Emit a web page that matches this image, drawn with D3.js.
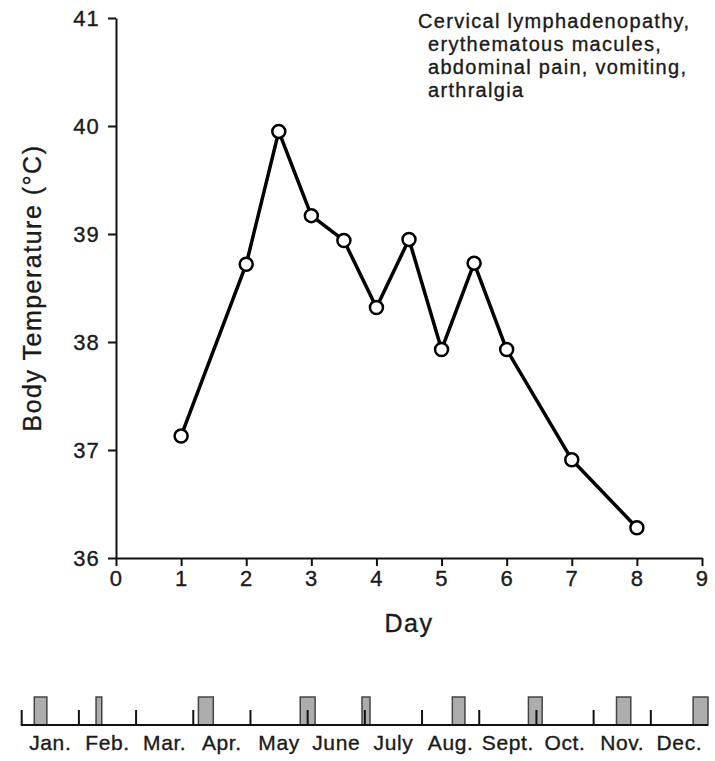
<!DOCTYPE html>
<html>
<head>
<meta charset="utf-8">
<script src="https://cdn.jsdelivr.net/npm/d3@7"></script>
<style>
  body { margin: 0; background: #fff; }
  text { font-family: "Liberation Sans", Arial, sans-serif; fill: #1a1a1a; stroke: #1a1a1a; stroke-width: 0.35px; }
</style>
</head>
<body>
<div id="myChart"></div>
<script>
// data
let days = [1, 2, 2.5, 3, 3.5, 4, 4.5, 5, 5.5, 6, 7, 8];
let temps = [37.13, 38.72, 39.95, 39.17, 38.94, 38.32, 38.95, 37.93, 38.73, 37.93, 36.91, 36.28];
let xTicks = [0, 1, 2, 3, 4, 5, 6, 7, 8, 9];
let yTicks = [36, 37, 38, 39, 40, 41];
let months = ["Jan.", "Feb.", "Mar.", "Apr.", "May", "June", "July", "Aug.", "Sept.", "Oct.", "Nov.", "Dec."];
// episodes on the year strip, in months from Jan. 1
let episodeStart = [0.22, 1.30, 3.09, 4.87, 5.95, 7.53, 8.86, 10.40, 11.74];
let episodeEnd = [0.44, 1.40, 3.35, 5.13, 6.09, 7.75, 9.10, 10.65, 12.0];
let noteLines = ["Cervical lymphadenopathy,", "erythematous macules,", "abdominal pain, vomiting,", "arthralgia"];

let totalW = 715, totalH = 761;

// set the dimensions and margins of the graph
let margin = {top: 18, right: 13, bottom: 203, left: 116},
    width = totalW - margin.left - margin.right,
    height = totalH - margin.top - margin.bottom;

let root = d3.select("#myChart")
    .append("svg")
        .attr("width", totalW)
        .attr("height", totalH);

let svg = root.append("g")
        .attr("transform", "translate(" + margin.left + "," + margin.top + ")");

let x = d3.scaleLinear()
    .domain([0, 9])
    .range([0, width]);

let y = d3.scaleLinear()
    .domain([36, 41])
    .range([height, 0]);

// X axis
let xAxis = svg.append("g")
    .attr("transform", "translate(0," + height + ")")
    .call(d3.axisBottom(x).tickValues(xTicks).tickFormat(d3.format("d"))
        .tickSize(8).tickSizeOuter(0).tickPadding(4));

// Y axis
let yAxis = svg.append("g")
    .call(d3.axisLeft(y).tickValues(yTicks).tickFormat(d3.format("d"))
        .tickSize(8).tickSizeOuter(0).tickPadding(8));

[xAxis, yAxis].forEach(function (a) {
    a.select(".domain").attr("stroke", "#111").attr("stroke-width", 2);
    a.selectAll(".tick line").attr("stroke", "#111").attr("stroke-width", 2);
    a.selectAll(".tick text")
        .style("font-size", "22px")
        .style("letter-spacing", "1.2px")
        .attr("fill", "#1a1a1a");
});
xAxis.selectAll(".tick text").attr("dy", "0.74em");
yAxis.selectAll(".tick text").attr("dy", "0.36em");

// axis titles
svg.append("text")
    .attr("x", width / 2)
    .attr("y", height + 74)
    .attr("text-anchor", "middle")
    .style("font-size", "25px")
    .style("letter-spacing", "1.5px")
    .text("Day");

svg.append("text")
    .attr("transform", "translate(" + (41 - margin.left) + "," + (y(38.5)) + ") rotate(-90)")
    .attr("text-anchor", "middle")
    .style("font-size", "25px")
    .style("letter-spacing", "1.5px")
    .text("Body Temperature (\u00B0C)");

// line
let pts = days.map(function (d, i) { return [d, temps[i]]; });

svg.append("path")
    .datum(pts)
    .attr("fill", "none")
    .attr("stroke", "#000")
    .attr("stroke-width", 3.5)
    .attr("stroke-linejoin", "round")
    .attr("d", d3.line()
        .x(function (d) { return x(d[0]); })
        .y(function (d) { return y(d[1]); }));

// dots
svg.append("g")
    .selectAll("circle")
    .data(pts)
    .enter()
    .append("circle")
        .attr("cx", function (d) { return x(d[0]); })
        .attr("cy", function (d) { return y(d[1]); })
        .attr("r", 6.5)
        .attr("fill", "#fff")
        .attr("stroke", "#000")
        .attr("stroke-width", 2.5);

// symptom note
let note = root.append("text")
    .style("font-size", "20px")
    .style("letter-spacing", "1.3px");

note.selectAll("tspan")
    .data(noteLines)
    .enter()
    .append("tspan")
        .attr("x", function (d, i) { return i === 0 ? 418 : 428; })
        .attr("y", function (d, i) { return 28 + i * 23; })
        .text(function (d) { return d; });

// year strip
let m = d3.scaleLinear()
    .domain([0, 12])
    .range([21.7, 708]);

let stripY = 725;
let strip = root.append("g");

strip.selectAll("rect")
    .data(episodeStart)
    .enter()
    .append("rect")
        .attr("x", function (d) { return m(d); })
        .attr("y", stripY - 28)
        .attr("width", function (d, i) { return m(episodeEnd[i]) - m(d); })
        .attr("height", 28)
        .attr("fill", "#adadad")
        .attr("stroke", "#444")
        .attr("stroke-width", 1.5);

strip.selectAll("line.mt")
    .data(d3.range(months.length))
    .enter()
    .append("line")
        .attr("class", "mt")
        .attr("x1", function (d) { return m(d); })
        .attr("x2", function (d) { return m(d); })
        .attr("y1", stripY)
        .attr("y2", stripY - 15)
        .attr("stroke", "#111")
        .attr("stroke-width", 2);

strip.append("line")
    .attr("x1", m(0) - 1)
    .attr("x2", m(12))
    .attr("y1", stripY)
    .attr("y2", stripY)
    .attr("stroke", "#111")
    .attr("stroke-width", 2);

strip.selectAll("text.mon")
    .data(months)
    .enter()
    .append("text")
        .attr("class", "mon")
        .attr("x", function (d, i) { return m(i + 0.5); })
        .attr("y", 750)
        .attr("text-anchor", "middle")
        .style("font-size", "21px")
        .style("letter-spacing", "0.6px")
        .text(function (d) { return d; });
</script>
</body>
</html>
